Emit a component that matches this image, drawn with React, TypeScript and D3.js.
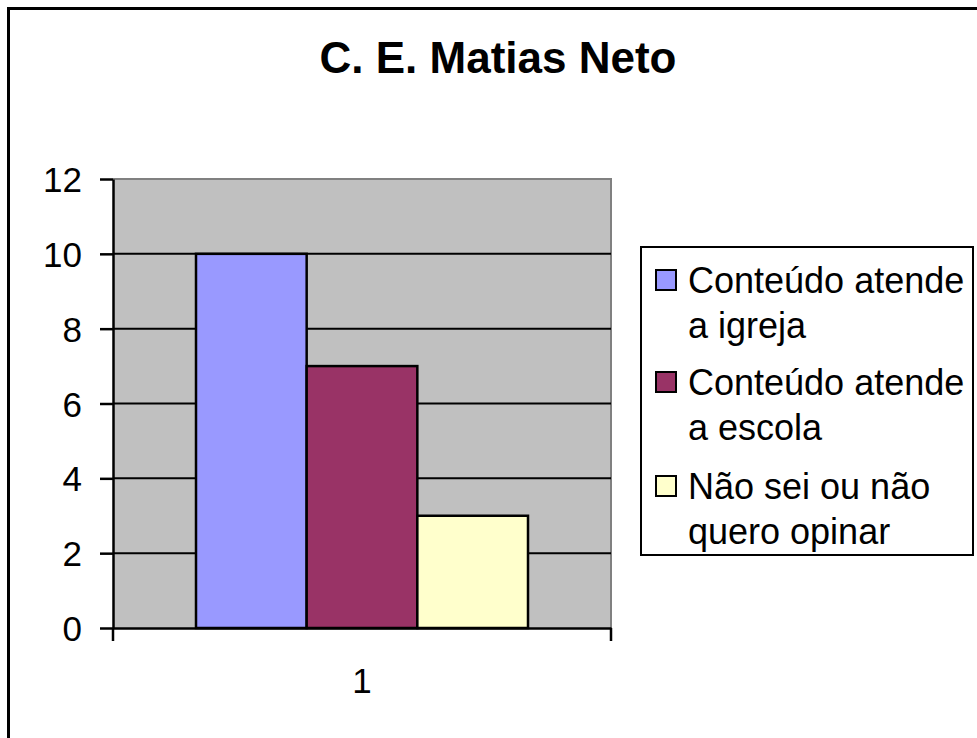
import { useEffect, useRef } from 'react';
import * as d3 from 'd3';

const title = 'C. E. Matias Neto';
const categories = ['1'];
const seriesNames = [
  ['Conteúdo atende', 'a igreja'],
  ['Conteúdo atende', 'a escola'],
  ['Não sei ou não', 'quero opinar'],
];
const seriesValues = [10, 7, 3];
const seriesColors = ['#9999FF', '#993366', '#FFFFCC'];
const yTicks = [0, 2, 4, 6, 8, 10, 12];

const W = 977;
const H = 738;
const FONT = '"Liberation Sans", Arial, sans-serif';

const App = () => {
  const svgRef = useRef<SVGSVGElement | null>(null);

  useEffect(() => {
    const svg = d3.select(svgRef.current);
    svg.selectAll('*').remove();

    const plot = { left: 113, right: 611, top: 179, bottom: 628 };

    // outer frame (right edge is cut off in the original)
    svg.append('rect')
      .attr('x', 8.5).attr('y', 8.5)
      .attr('width', W + 20).attr('height', H + 20)
      .attr('fill', '#fff').attr('stroke', '#000').attr('stroke-width', 3);

    svg.append('text')
      .attr('x', 498).attr('y', 73)
      .attr('text-anchor', 'middle')
      .attr('font-family', FONT).attr('font-weight', 'bold').attr('font-size', 44)
      .text(title);

    const y = d3.scaleLinear().domain([0, 12]).range([plot.bottom, plot.top]);
    const x = d3.scaleBand().domain(categories).range([plot.left, plot.right]);
    const inner = d3.scaleBand()
      .domain(d3.range(seriesValues.length).map(String))
      .range([0, x.bandwidth()])
      .paddingOuter(0.75).paddingInner(0);

    // plot background
    svg.append('rect')
      .attr('x', plot.left).attr('y', plot.top)
      .attr('width', plot.right - plot.left).attr('height', plot.bottom - plot.top)
      .attr('fill', '#C0C0C0');
    svg.append('path')
      .attr('d', `M${plot.left},${plot.top}H${plot.right}V${plot.bottom}`)
      .attr('fill', 'none').attr('stroke', '#808080').attr('stroke-width', 2);

    // gridlines
    svg.append('g')
      .selectAll('line')
      .data(yTicks.filter(t => t > 0 && t < 12))
      .enter().append('line')
      .attr('x1', plot.left).attr('x2', plot.right)
      .attr('y1', d => y(d)).attr('y2', d => y(d))
      .attr('stroke', '#000').attr('stroke-width', 2);

    // bars
    const g = svg.append('g').attr('transform', `translate(${x(categories[0])},0)`);
    g.selectAll('rect')
      .data(seriesValues)
      .enter().append('rect')
      .attr('x', (d, i) => inner(String(i)) as number)
      .attr('y', d => y(d))
      .attr('width', inner.bandwidth())
      .attr('height', d => plot.bottom - y(d))
      .attr('fill', (d, i) => seriesColors[i])
      .attr('stroke', '#000').attr('stroke-width', 2.5);

    // y axis
    const yAxis = svg.append('g')
      .attr('transform', `translate(${plot.left},0)`)
      .call(d3.axisLeft(y).tickValues(yTicks).tickSizeInner(13).tickSizeOuter(0).tickPadding(18));
    yAxis.select('.domain').attr('stroke-width', 2.5);
    yAxis.selectAll('.tick line').attr('stroke-width', 2.5);
    yAxis.selectAll('.tick text')
      .attr('font-family', FONT).attr('font-size', 35).attr('fill', '#000')
      .attr('dy', '0.36em');

    // x axis
    const xAxis = svg.append('g')
      .attr('transform', `translate(0,${plot.bottom})`)
      .call(d3.axisBottom(x).tickSize(0).tickPadding(40));
    xAxis.select('.domain').attr('stroke-width', 2.5);
    xAxis.selectAll('.tick text')
      .attr('font-family', FONT).attr('font-size', 35).attr('fill', '#000');
    xAxis.selectAll('line.edge')
      .data([plot.left, plot.right])
      .enter().append('line')
      .attr('class', 'edge')
      .attr('x1', d => d).attr('x2', d => d)
      .attr('y1', 0).attr('y2', 13)
      .attr('stroke', '#000').attr('stroke-width', 2.5);

    // legend
    const lg = svg.append('g');
    lg.append('rect')
      .attr('x', 641).attr('y', 247).attr('width', 332).attr('height', 308)
      .attr('fill', '#fff').attr('stroke', '#000').attr('stroke-width', 2);
    const rowY = [293, 395, 499];
    const items = lg.selectAll('g.item')
      .data(seriesNames)
      .enter().append('g')
      .attr('class', 'item')
      .attr('transform', (d, i) => `translate(0,${rowY[i]})`);
    items.append('rect')
      .attr('x', 656).attr('y', -23).attr('width', 20).attr('height', 20)
      .attr('fill', (d, i) => seriesColors[i])
      .attr('stroke', '#000').attr('stroke-width', 2);
    items.append('text')
      .attr('font-family', FONT).attr('font-size', 36)
      .selectAll('tspan')
      .data(d => d)
      .enter().append('tspan')
      .attr('x', 688)
      .attr('y', (d, j) => j * 45)
      .text(d => d);
  }, []);

  return (
    <div style={{ position: 'absolute', left: 0, top: 0, width: W, height: H, overflow: 'hidden', background: '#fff' }}>
      <svg ref={svgRef} width={W} height={H}></svg>
    </div>
  );
};

export default App;
